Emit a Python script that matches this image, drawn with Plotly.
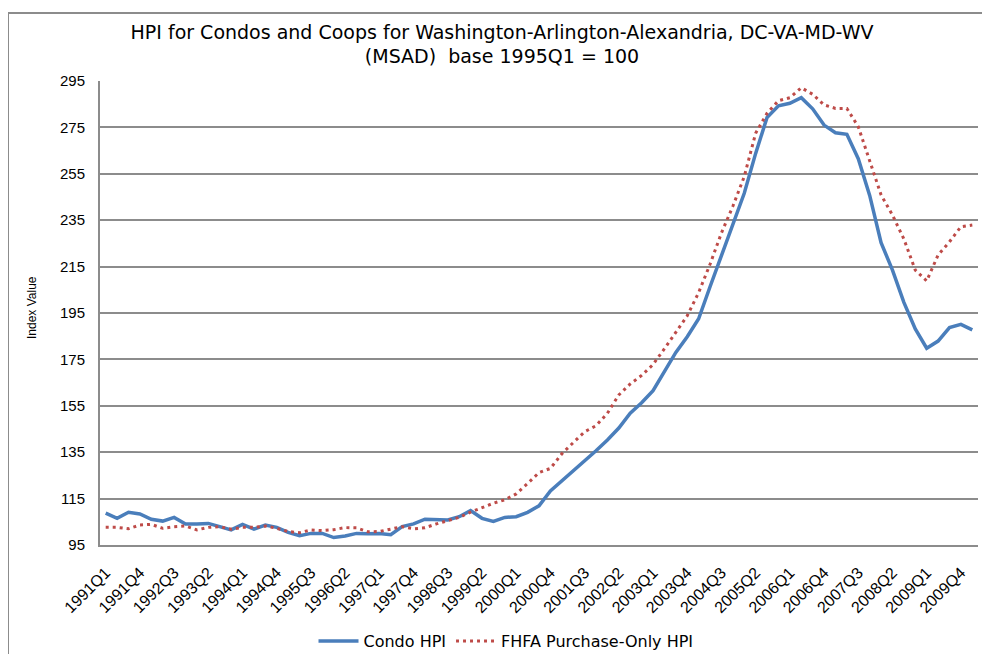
import plotly.graph_objects as go

# ---- data ----
quarters = [f"{y}Q{q}" for y in range(1991, 2011) for q in range(1, 5)][:77]

condo_hpi = [
    108.7, 106.5, 109.1, 108.4, 106.1, 105.3, 106.9, 104.0, 104.0, 104.3,
    102.9, 101.5, 103.9, 101.8, 103.6, 102.6, 100.4, 99.0, 100.0, 100.0,
    98.2, 98.9, 100.0, 99.8, 100.0, 99.4, 102.9, 104.1, 106.1, 105.8,
    105.8, 107.2, 109.8, 106.5, 105.2, 106.9, 107.2, 109.1, 111.9, 118.3,
    122.6, 127.3, 131.6, 135.6, 140.3, 145.4, 151.8, 156.3, 161.5, 170.0,
    178.0, 184.8, 192.5, 206.3, 219.5, 233.0, 246.6, 263.8, 279.3, 284.3,
    285.4, 287.8, 283.0, 276.0, 272.7, 272.0, 261.5, 245.7, 225.3, 213.5,
    199.6, 188.1, 179.8, 182.9, 188.7, 190.1, 187.7,
]

fhfa_hpi = [
    102.6, 102.6, 102.0, 103.6, 103.9, 102.2, 102.9, 103.2, 101.5, 102.6,
    102.9, 101.8, 102.6, 102.6, 103.2, 102.2, 100.8, 100.3, 101.5, 101.2,
    101.6, 102.5, 102.4, 100.7, 100.8, 101.8, 102.9, 102.0, 102.4, 104.1,
    105.5, 106.9, 109.2, 111.2, 113.0, 114.5, 117.0, 121.5, 126.2, 128.0,
    134.3, 139.1, 143.8, 146.4, 151.8, 159.7, 164.4, 168.1, 172.8, 179.6,
    186.8, 193.8, 203.8, 216.0, 229.5, 241.0, 253.8, 272.5, 281.1, 286.5,
    287.8, 292.1, 289.3, 284.7, 283.2, 283.2, 275.3, 261.0, 245.9, 237.2,
    226.9, 213.5, 208.8, 220.0, 225.7, 232.2, 232.9,
]

tick_labels = quarters[::3]
y_ticks = list(range(95, 296, 20))

FONT = "Liberation Sans, Arial, sans-serif"
WIDE = "DejaVu Sans, Liberation Sans, sans-serif"
GRID = "#8c8c8c"

fig = go.Figure()
fig.add_trace(go.Scatter(
    x=quarters, y=condo_hpi, mode="lines", name="Condo HPI",
    line=dict(color="#4A7EBB", width=3.5),
))
fig.add_trace(go.Scatter(
    x=quarters, y=fhfa_hpi, mode="lines", name="FHFA Purchase-Only HPI",
    line=dict(color="#BE4B48", width=3, dash="3px,4px"),
))

# page body margin offsets the figure by 8px; work in screen pixels
OFF = 8
W, H = 990 - OFF, 654 - OFF
PL, PR, PT, PB = 100, 978, 81, 545          # plot area in screen pixels
L, T = PL - OFF, PT - OFF
R, B = W - (PR - OFF), H - (PB - OFF)
pw, ph = W - L - R, H - T - B


def px(xs):
    return (xs - PL) / pw


def py(ys):
    return (PB - ys) / ph


def cx(xs):
    return (xs - OFF) / W


def cy(ys):
    return 1 - (ys - OFF) / H


fig.update_layout(
    width=W, height=H,
    margin=dict(l=L, r=R, t=T, b=B, autoexpand=False),
    paper_bgcolor="white", plot_bgcolor="white",
    font=dict(family=FONT, color="#000000"),
    title=dict(
        text="HPI for Condos and Coops for Washington-Arlington-Alexandria, DC-VA-MD-WV<br>(MSAD)  base 1995Q1 = 100",
        x=cx(502), xref="container", xanchor="center",
        y=cy(38.5), yref="container", yanchor="middle",
        font=dict(size=19, family=WIDE, color="#000000"),
    ),
    showlegend=True,
    legend=dict(
        orientation="h", x=cx(506), xref="container", xanchor="center",
        y=cy(641), yref="container", yanchor="middle",
        font=dict(size=16, family=WIDE), bgcolor="rgba(0,0,0,0)",
        itemwidth=40,
    ),
    xaxis=dict(
        type="category", range=[-0.5, 76.5], automargin=False,
        tickmode="array", tickvals=tick_labels, ticktext=tick_labels,
        tickangle=-45, tickfont=dict(size=16, family=FONT),
        showgrid=False, showline=True, linecolor=GRID, linewidth=2,
        ticks="outside", ticklen=10, tickcolor="rgba(0,0,0,0)",
        zeroline=False,
    ),
    yaxis=dict(
        range=[95, 295], tickmode="array", tickvals=y_ticks, automargin=False,
        tickfont=dict(size=15, family=FONT),
        showgrid=True, gridcolor=GRID, gridwidth=2,
        showline=True, linecolor=GRID, linewidth=2,
        ticks="outside", ticklen=10, tickcolor="rgba(0,0,0,0)",
        zeroline=False,
    ),
    annotations=[dict(
        text="Index Value", textangle=-90, showarrow=False,
        xref="paper", yref="paper", x=px(32), y=py(308),
        xanchor="center", yanchor="middle",
        font=dict(size=12, family=FONT),
    )],
    shapes=[
        dict(type="line", xref="paper", yref="paper",
             x0=px(8), x1=px(8), y0=py(13), y1=py(660),
             line=dict(color="#8c8c8c", width=2)),
        dict(type="line", xref="paper", yref="paper",
             x0=px(8), x1=px(995), y0=py(13), y1=py(13),
             line=dict(color="#8c8c8c", width=2)),
    ],
)

fig.write_html("out.html")
